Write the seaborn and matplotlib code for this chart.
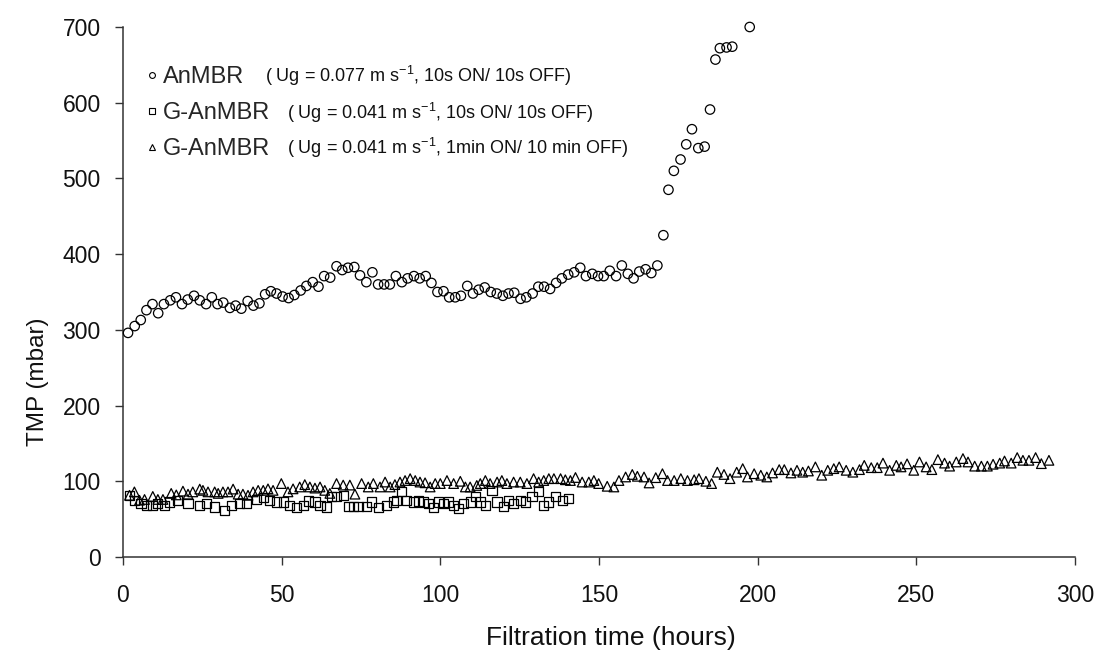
import numpy as np
import pandas as pd
import matplotlib
matplotlib.use("Agg")
import matplotlib.pyplot as plt
from matplotlib.lines import Line2D
import seaborn as sns

# ---------------- data ----------------
anmbr_t = [1.6, 3.7, 5.6, 7.4, 9.3, 11.1, 12.9, 14.9, 16.7, 18.6, 20.4, 22.4, 24.2, 26.2,
           28.0, 29.8, 31.6, 33.7, 35.5, 37.3, 39.3, 41.1, 43.0, 44.8, 46.6, 48.4, 50.3,
           52.2, 54.0, 56.0, 57.8, 59.8, 61.6, 63.4, 65.3, 67.3, 69.1, 70.9, 72.9, 74.7,
           76.7, 78.6, 80.4, 82.3, 84.1, 86.0, 87.9, 89.7, 91.7, 93.5, 95.4, 97.2, 99.1,
           101.0, 102.8, 104.7, 106.5, 108.5, 110.3, 112.1, 114.0, 115.9, 117.8, 119.7,
           121.5, 123.3, 125.3, 127.1, 129.1, 130.9, 132.7, 134.6, 136.5, 138.3, 140.3,
           142.2, 144.1, 145.9, 147.9, 149.7, 151.5, 153.4, 155.4, 157.2, 159.1, 160.9,
           162.7, 164.7, 166.5, 168.4,
           170.3, 171.9, 173.6, 175.7, 177.5, 179.3, 181.3, 183.3, 185.0, 186.7, 188.1,
           190.2, 192.0, 197.5]
anmbr_tmp = [296, 305, 313, 326, 334, 322, 334, 339, 343, 334, 340, 345, 339, 334,
             343, 334, 336, 329, 332, 328, 338, 332, 335, 347, 351, 348, 344,
             342, 346, 352, 358, 363, 357, 371, 369, 384, 379, 382, 383, 372,
             363, 376, 360, 360, 360, 371, 363, 368, 371, 368, 371, 362, 350,
             351, 343, 343, 345, 358, 348, 353, 356, 350, 348, 345,
             348, 349, 341, 343, 348, 357, 357, 354, 362, 368, 373,
             376, 382, 371, 374, 371, 371, 378, 371, 385, 374, 368,
             377, 380, 375, 385,
             425, 485, 510, 525, 545, 565, 540, 542, 591, 657, 672,
             673, 674, 700]

g1_t = [2.05, 3.6, 5.7, 7.3, 9.4, 11.0, 13.1, 14.7, 17.3, 20.5, 24.2, 26.3, 28.9, 32.1,
        34.2, 36.8, 38.9, 42.1, 44.2, 46.3, 48.4, 50.5, 52.6, 54.7, 56.8, 58.4, 60.5,
        62.1, 64.2, 65.8, 67.3, 69.4, 71.0, 72.6, 74.2, 76.8, 78.4, 80.5, 83.1, 85.2,
        86.3, 87.8, 89.4, 91.5, 93.1, 94.7, 96.3, 97.9, 99.4, 101.0, 102.6, 104.2,
        105.8, 107.4, 109.4, 111.0, 112.6, 114.2, 116.3, 117.9, 120.0, 121.6, 123.1,
        125.2, 126.8, 128.9, 131.0, 132.6, 134.2, 136.3, 138.4, 140.5]
g1_tmp = [81.5, 75, 70.5, 68.3, 68.3, 70.5, 68.3, 72.7, 75, 70.5, 68.3, 70.5, 66.1, 61.7,
          68.3, 70.5, 70.5, 75.8, 78.4, 75, 72.7, 72.7, 68.3, 65.2, 68.3, 74.1, 72.7,
          68.3, 66.1, 80.2, 80.2, 81.5, 67, 67, 67, 67, 72.7, 65.2, 68.3, 72.7,
          75, 86, 75, 72.7, 74.1, 72.7, 70.5, 65.2, 72.7, 70.5, 72.7, 68.3,
          63.9, 70.5, 72.7, 80.2, 72.7, 68.3, 88.1, 72.7, 67, 75, 70.5,
          75, 72.7, 80.2, 86, 68.3, 72.7, 80.2, 75, 77.2]

g2_t = [2.05, 3.6, 5.2, 6.8, 9.4, 11.0, 12.6, 15.2, 16.8, 18.9, 20.5, 22.0, 24.2, 25.2,
        26.8, 28.9, 30.0, 31.5, 33.1, 34.7, 36.3, 37.8, 39.4, 41.0, 42.6, 44.2, 45.7,
        47.3, 49.9, 52.0, 53.6, 55.7, 57.3, 58.9, 60.5, 62.1, 63.6, 65.2, 67.3, 69.4,
        71.5, 73.1, 75.2, 77.3, 78.9, 81.0, 82.6, 84.2, 85.7, 87.3, 88.9, 90.5, 92.1,
        93.6, 95.2, 96.8, 98.4, 100.0, 102.1, 104.2, 106.3, 107.9, 109.4, 111.5, 112.6,
        114.2, 115.7, 117.9, 119.4, 121.0, 123.1, 125.2, 127.3, 129.4, 131.0, 132.6,
        134.2, 135.8, 137.9, 139.4, 141.0, 142.6, 144.7, 146.8, 148.4, 149.9,
        152.6, 154.7, 156.3, 158.4, 160.5, 162.1, 164.2, 165.8, 167.9, 170.0, 171.6,
        173.7, 175.8, 177.9, 180.0, 181.5, 183.7, 185.5, 187.3, 189.4, 191.3, 193.4,
        195.3, 196.8, 198.9, 201.0, 202.9, 204.7, 206.8, 208.4, 210.5, 212.4, 214.2,
        216.0, 218.2, 220.2, 222.1, 224.0, 225.7, 227.9, 230.0, 232.1, 233.6, 235.8,
        237.7, 239.5, 241.6, 243.7, 245.2, 247.1, 249.2, 251.0, 253.1, 254.9, 256.8,
        258.9, 260.5, 262.6, 264.7, 266.3, 268.4, 270.5, 272.4, 274.2, 276.3,
        277.8, 279.9, 281.8, 283.6, 285.5, 287.6, 289.4, 291.8]
g2_tmp = [81.5, 86, 75, 76, 80, 76, 76, 84, 82, 87, 83, 86, 89.7, 88,
          86, 86, 84, 86, 86, 89.7, 83, 83, 81.5, 86, 88, 88, 90,
          88, 97, 86, 90, 92.5, 95.6, 92.5, 91, 92.5, 88, 84, 97, 95,
          95, 83, 97, 92.5, 97, 92.5, 99, 92.5, 95.6, 99, 101, 103.5, 101,
          99, 98, 92.5, 97, 97, 101, 97, 100, 92.5, 92.5, 94.5, 97,
          101, 97, 99, 101, 97, 99, 99, 97, 103.5, 99, 101,
          103.5, 103.5, 103.5, 102, 101, 105, 99, 99, 101, 97,
          93.4, 92.5, 101, 105.7, 109, 106.6, 105.7, 97.8, 104.8, 110, 101,
          101, 103.5, 101, 102, 103.5, 100, 97, 112, 109, 103.5, 112,
          116.7, 105.7, 110, 108, 105.7, 111, 115.4, 115.4, 111, 114.5, 112,
          113.6, 119, 108, 114.5, 116.7, 119, 114.5, 112, 115.4, 121, 118,
          118, 124, 114.5, 121, 119, 123, 114.5, 125.5, 119, 115.4, 128.6,
          124, 120, 125.5, 130, 125.5, 120, 120, 120, 122.5, 124,
          126.8, 124, 131.3, 127.7, 127.7, 131.3, 123.3, 127.7]

series_names = ["AnMBR", "G-AnMBR", "G-AnMBR"]
series_notes = ["( Ug = 0.077 m s$^{-1}$, 10s ON/ 10s OFF)",
                "( Ug = 0.041 m s$^{-1}$, 10s ON/ 10s OFF)",
                "( Ug = 0.041 m s$^{-1}$, 1min ON/ 10 min OFF)"]
x_ticks = [0, 50, 100, 150, 200, 250, 300]
y_ticks = [0, 100, 200, 300, 400, 500, 600, 700]

# ---------------- style ----------------
sns.set_theme(style="ticks")
plt.rcParams["font.family"] = ["Liberation Sans", "DejaVu Sans"]
plt.rcParams["mathtext.fontset"] = "custom"
plt.rcParams["mathtext.rm"] = "Liberation Sans"
plt.rcParams["mathtext.it"] = "Liberation Sans:italic"
plt.rcParams["mathtext.bf"] = "Liberation Sans:bold"

fig = plt.figure(figsize=(10.94, 6.52), dpi=100)
ax = fig.add_axes([0.1124, 0.1457, 0.8702, 0.8129])

df_a = pd.DataFrame({"t": anmbr_t, "tmp": anmbr_tmp})
df_b = pd.DataFrame({"t": g1_t, "tmp": g1_tmp})
df_c = pd.DataFrame({"t": g2_t, "tmp": g2_tmp})

common = dict(facecolor="none", edgecolor="black", linewidth=0.9, legend=False,
              ax=ax, clip_on=False, zorder=3)
sns.scatterplot(data=df_c, x="t", y="tmp", marker="^", s=48, **common)
sns.scatterplot(data=df_b, x="t", y="tmp", marker="s", s=44, **common)
sns.scatterplot(data=df_a, x="t", y="tmp", marker="o", s=46, **common)

ax.set_xlim(0, 300)
ax.set_ylim(0, 700)
ax.set_xticks(x_ticks)
ax.set_yticks(y_ticks)
ax.tick_params(axis="both", direction="out", length=6, width=1, color="#333333",
               labelsize=16.5, labelcolor="#111111")
ax.tick_params(axis="x", pad=13.5)
ax.tick_params(axis="y", pad=10)
sns.despine(ax=ax)
for s in ["left", "bottom"]:
    ax.spines[s].set_color("#333333")
    ax.spines[s].set_linewidth(1.1)
ax.set_xlabel("Filtration time (hours)", fontsize=19, color="#111111")
ax.set_ylabel("TMP (mbar)", fontsize=17.5, color="#111111")
ax.xaxis.set_label_coords(0.5126, -0.131)
ax.yaxis.set_label_coords(-0.078, 0.33)

# legend: markers + names, notes as separate smaller text
handles = [Line2D([], [], linestyle="none", marker=m, markersize=4.2,
                  markerfacecolor="none", markeredgecolor="black", markeredgewidth=0.8)
           for m in ["o", "s", "^"]]
leg = ax.legend(handles, series_names, loc="upper left", bbox_to_anchor=(0.0227, 0.926),
                frameon=False, fontsize=17, handlelength=0.6, handletextpad=0.18,
                labelspacing=0.59, borderaxespad=0.0, borderpad=0.0)
note_x = [0.1487, 0.1728, 0.1728]
note_y = [0.8968, 0.8264, 0.7604]
for nx, ny, note in zip(note_x, note_y, series_notes):
    ax.text(nx, ny, note, transform=ax.transAxes, fontsize=13, va="baseline",
            ha="left", color="#111111")

fig.savefig("out.png", dpi=100)
